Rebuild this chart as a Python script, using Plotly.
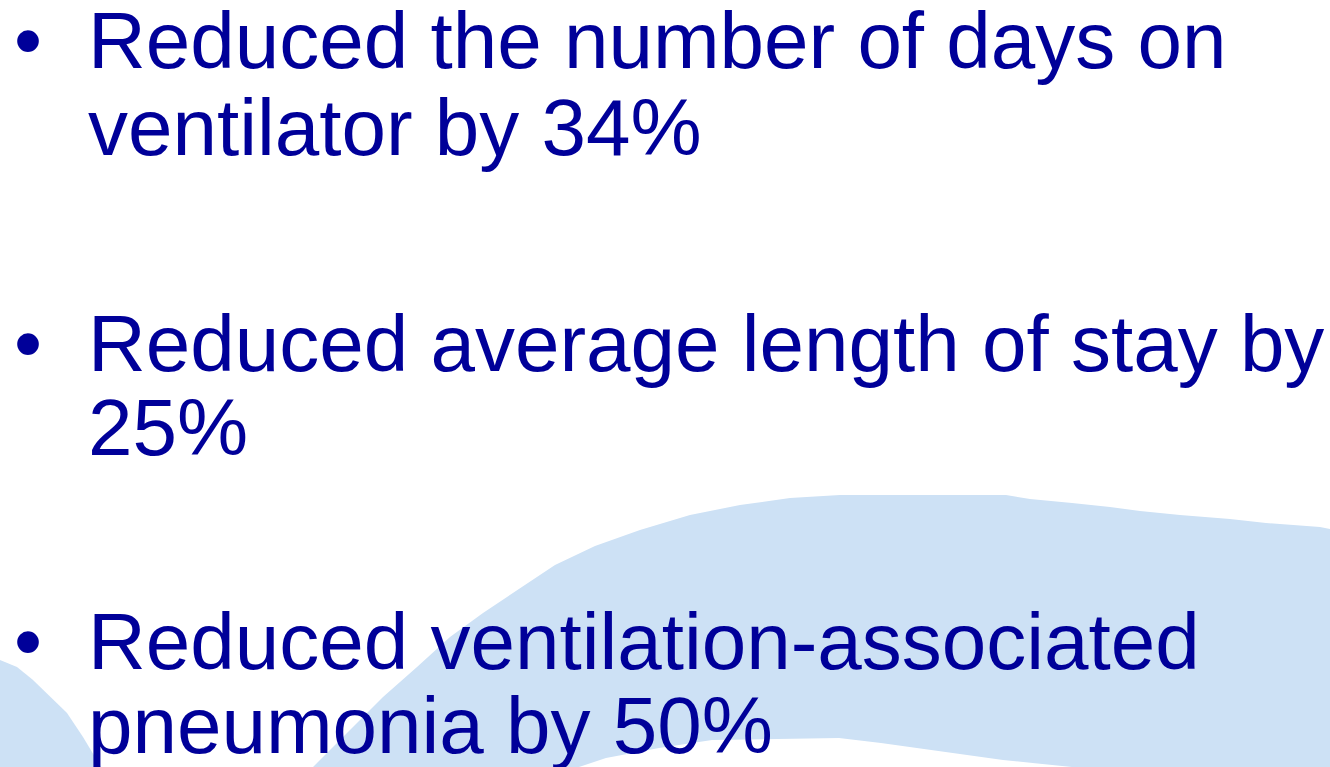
import plotly.graph_objects as go

# Text content
lines = [
    "Reduced the number of days on",
    "ventilator by 34%",
    "Reduced average length of stay by",
    "25%",
    "Reduced ventilation-associated",
    "pneumonia by 50%",
]
line_baselines = [68, 155, 371, 455, 669, 753]
bullet_baselines = [68, 371, 669]

# Background wave outlines (pixel coords)
wave_x = [313, 317, 350, 383, 417, 450, 483, 517, 555, 595, 640, 690, 740, 790, 840, 1006,
          1030, 1072, 1110, 1140, 1180, 1230, 1266, 1320, 1330, 1330,
          1072, 1003, 934, 881, 839, 712, 659, 606, 579, 313]
wave_y = [767, 763, 730, 697, 667, 637, 613, 590, 565, 546, 530, 515, 505, 498, 495, 495,
          499, 503, 507, 511, 515, 519, 523, 527, 529, 767,
          767, 760, 750, 743, 738, 740, 748, 758, 767, 767]
corner_x = [0, 17, 33, 50, 67, 83, 97, 101, 0, 0]
corner_y = [660, 667, 680, 697, 713, 737, 760, 767, 767, 660]

TEXT_COLOR = "#000099"
FILL = "#cde1f5"
FS = 80
FONT = "Liberation Sans, Arial, sans-serif"

fig = go.Figure()
for xs, ys in [(wave_x, wave_y), (corner_x, corner_y)]:
    fig.add_trace(go.Scatter(x=xs, y=ys, mode="lines", fill="toself", fillcolor=FILL,
                             line=dict(width=0, color=FILL), hoverinfo="skip", showlegend=False))

OFF = 27.7
for t, b in zip(lines, line_baselines):
    fig.add_annotation(x=86, y=b - OFF, xref="x", yref="y", text=t, showarrow=False,
                       xanchor="left", yanchor="middle",
                       font=dict(family=FONT, size=FS, color=TEXT_COLOR))
for b in bullet_baselines:
    fig.add_annotation(x=12, y=b - OFF, xref="x", yref="y", text="•", showarrow=False,
                       xanchor="left", yanchor="middle",
                       font=dict(family=FONT, size=FS, color=TEXT_COLOR))

fig.update_layout(
    width=1330, height=767, margin=dict(l=0, r=0, t=0, b=0),
    paper_bgcolor="white", plot_bgcolor="white",
    xaxis=dict(range=[0, 1330], visible=False, fixedrange=True),
    yaxis=dict(range=[767, 0], visible=False, fixedrange=True),
    showlegend=False,
)
fig.write_html("out.html", post_script="document.body.style.margin='0';",
               config={"displayModeBar": False})
